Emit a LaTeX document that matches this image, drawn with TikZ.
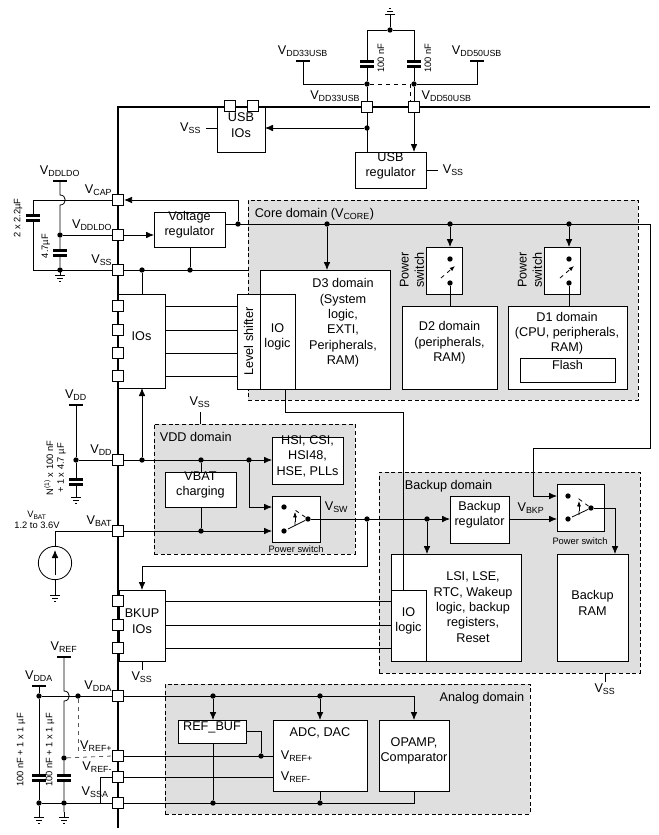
\documentclass[tikz,border=0pt]{standalone}
\usepackage{fontspec}
\setmainfont{Liberation Sans}
\usetikzlibrary{positioning, fit, calc, arrows.meta}
\newcommand{\vl}[1]{V\textsubscript{#1}}
\begin{document}
\begin{tikzpicture}[x=0.75pt, y=-0.75pt, line width=0.6pt,
  font=\fontsize{9.5}{11.5}\selectfont,
  box/.style={draw, fill=white, inner sep=0pt, outer sep=0pt, align=center},
  dombox/.style={draw, densely dashed, fill=gray!25, inner sep=0pt},
  pad/.style={draw, fill=white, minimum size=8.5pt, inner sep=0pt},
  dot/.style={circle, fill, inner sep=0pt, minimum size=4pt},
  arr/.style={-{Latex[length=6pt,width=5pt]}},
  bus/.style={line width=1.3pt},
  small/.style={font=\fontsize{7}{8}\selectfont},
  rail/.pic={\draw[line width=1.3pt] (-7,0) -- (7,0);},
  capv/.pic={\fill[white] (-7,-3) rectangle (7,3);
    \draw[line width=2pt] (-7,-2.5) -- (7,-2.5) (-7,2.5) -- (7,2.5);},
  gnd/.pic={\draw (0,0) -- (0,5) (-5,5) -- (5,5) (-3,8) -- (3,8) (-1,11) -- (1,11);},
]
\useasboundingbox (0,0) rectangle (658,835);

% domains
\node (core) [dombox, fit={(248,200) (638,400)}] {};
\node [anchor=north west] at (250,203) {Core domain (\vl{CORE})};
\node (vdddom) [dombox, fit={(154,424) (355,554)}] {};
\node [anchor=north west] at (155,427) {VDD domain};
\node (bkpdom) [dombox, fit={(379,472) (640,673)}] {};
\node [anchor=north west] at (400,475) {Backup domain};
\node (anadom) [dombox, fit={(165,684) (530,814)}] {};
\node [anchor=north east] at (529,687) {Analog domain};

% bus
\coordinate (busT) at (118,107);
\coordinate (busB) at (118,828);
\coordinate (topR) at (650,107);
\draw[bus] (busB) -- (busT) -- (topR);

% blocks
\node (usbio) [box, fit={(217,107) (265,152)}] {USB\\IOs};
\node (usbreg) [box, fit={(355,152) (426,188)}] {USB\\regulator};
\node (vreg) [box, fit={(154,212) (225,247)}] {Voltage\\regulator};
\node (ios) [box, fit={(118,294) (165,388)}] {IOs};
\node (d3) [box, fit={(260,270) (390,389)}] {};
\node [align=center] at (343,323) {D3 domain\\(System\\logic,\\EXTI,\\Peripherals,\\RAM)};
\node (iol3) [box, fit={(260,294) (295,389)}] {IO\\logic};
\node (lvl) [box, fit={(237,294) (260,389)}, label={[rotate=90]center:Level shifter}] {};
\node (psw2) [box, fit={(426,247) (462,294)}] {};
\node [rotate=90, align=center] at (412,270) {Power\\switch};
\node (d2) [box, fit={(402,306) (497,389)}] {D2 domain\\(peripherals,\\RAM)};
\node (psw1) [box, fit={(544,247) (580,294)}] {};
\node [rotate=90, align=center] at (530,270) {Power\\switch};
\node (d1) [box, fit={(508,306) (627,389)}] {};
\node [align=center, anchor=north] at (567,307) {D1 domain\\(CPU, peripherals,\\RAM)};
\node (flash) [box, fit={(520,358) (615,382)}] {Flash};
\node (hsi) [box, fit={(272,437) (343,484)}] {HSI, CSI,\\HSI48,\\HSE, PLLs};
\node (vbc) [box, fit={(165,472) (236,507)}] {VBAT\\charging};
\node (swv) [box, fit={(272,496) (320,542)}] {};
\node [small] at (296,549) {Power switch};
\node (bkreg) [box, fit={(450,496) (509,543)}] {Backup\\regulator};
\node (swb) [box, fit={(557,484) (604,531)}] {};
\node [small] at (580,541) {Power switch};
\node (lsi) [box, fit={(391,554) (521,661)}] {};
\node [align=center] at (473,607) {LSI, LSE,\\RTC, Wakeup\\logic, backup\\registers,\\Reset};
\node (iolb) [box, fit={(391,590) (426,661)}] {IO\\logic};
\node (bram) [box, fit={(557,554) (628,661)}] {Backup\\RAM};
\node (bkio) [box, fit={(119,590) (165,661)}] {BKUP\\IOs};
\node (refbuf) [box, fit={(178,720) (246,743)}] {REF\_BUF};
\node (adc) [box, fit={(273,720) (367,791)}] {};
\node [anchor=north] at (320,723) {ADC, DAC};
\node [anchor=west] at (276,756) {\vl{REF+}};
\node [anchor=west] at (276,777) {\vl{REF-}};
\node (opamp) [box, fit={(379,720) (449,791)}] {OPAMP,\\Comparator};
\node (src) [draw, circle, minimum size=25pt, inner sep=0pt] at (55,563) {};

% pads
\foreach \n/\y in {cap/200, ldo/235, vss/270, io1/306, io2/330, io3/353, io4/376,
  vdd/460, bat/531, bk1/601, bk2/625, bk3/648, dda/696, refp/756, refn/777, ssa/803}
  \node (p\n) [pad] at (118,\y) {};
\node (p33) [pad] at (367,107) {};
\node (p50) [pad] at (414,107) {};
\node (pu1) [pad] at (230,106) {};
\node (pu2) [pad] at (253,106) {};

% pad labels
\foreach \y/\t in {192/CAP, 227/DDLDO, 262/SS, 452/DD, 523/BAT, 688/DDA, 748/REF+, 769/REF-}
  \node [anchor=south east, inner sep=1pt] at (114,\y+5) {\vl{\t}};
\node [anchor=south west, inner sep=1pt] at (80,799) {\vl{SSA}};
\node [anchor=south east, inner sep=1pt] at (362,103) {\vl{DD33USB}};
\node [anchor=south west, inner sep=1pt] at (420,103) {\vl{DD50USB}};

% USB supply
\node (dtop) [dot] at (390,30) {};
\node (d33) [dot] at (367,84) {};
\node (d50) [dot] at (414,84) {};
\draw (390,19) -- (dtop);
\pic[rotate=180] at (390,19) {gnd};
\draw (d33) |- (dtop) -| (d50);
\pic at (367,64) {capv};
\pic at (414,64) {capv};
\node [small, rotate=90] at (381,58) {100 nF};
\node [small, rotate=90] at (428,58) {100 nF};
\coordinate (v33) at (303,61);
\coordinate (v50) at (477,61);
\draw (d33) -| (v33);
\draw (d50) -| (v50);
\pic at (v33) {rail};
\pic at (v50) {rail};
\node [above] at (v33) {\vl{DD33USB}};
\node [above] at (v50) {\vl{DD50USB}};
\draw[dashed] (d33) -- (410,84) -- (410,102);
\draw (d33) -- (p33);
\draw (d50) -- (p50);
\node (du) [dot] at (367,128) {};
\draw (p33) -- (usbreg.north -| p33);
\draw[arr] (du) -- (usbio.east |- du);
\draw[arr] (p50) -- (usbreg.north -| p50);
\coordinate (vsu) at (206,128);
\draw (vsu) -- (usbio.west |- vsu);
\node [left] at (vsu) {\vl{SS}};
\coordinate (vsr) at (438,170);
\draw (usbreg.east |- vsr) -- (vsr);
\node [right] at (vsr) {\vl{SS}};

% LDO and VCAP
\coordinate (rldo) at (60,181);
\pic at (rldo) {rail};
\node [above] at (rldo) {\vl{DDLDO}};
\node (dldo) [dot] at (60,235) {};
\node (dvss) [dot] at (60,270) {};
\draw (rldo) -- (60,195) .. controls (67,195) and (67,205) .. (60,205) -- (dldo) -- (dvss);
\draw (pcap.west) -- (33,200) -- (33,270) -- (pvss.west);
\pic at (33,218) {capv};
\pic at (60,253) {capv};
\node [small, rotate=90] at (18,218) {2 x 2.2µF};
\node [small, rotate=90] at (46,246) {4.7µF};
\pic at (dvss) {gnd};
\draw (dldo) -- (pldo.west);
\draw[arr] (pldo.east) -- (vreg.west |- pldo);
\node (dcr) [dot] at (238,224) {};
\draw[arr] (dcr) |- (pcap.east);
\coordinate (cr1) at (650,224);
\coordinate (cr2) at (533,448);
\coordinate (swbin1) at (557,496);
\coordinate (swbin2) at (557,519);
\draw[arr] (vreg.east |- dcr) -- (cr1) -- (cr1 |- cr2) -- (cr2) -- (cr2 |- swbin1) -- (swbin1);
\node (dc3) [dot] at (327,224) {};
\node (dc2) [dot] at (450,224) {};
\node (dc1) [dot] at (569,224) {};
\draw[arr] (dc3) -- (d3.north -| dc3);
\draw[arr] (dc2) -- (psw2.north -| dc2);
\draw[arr] (dc1) -- (psw1.north -| dc1);
\foreach \s/\x/\d in {2/450/d2, 1/569/d1} {
  \node (s\s a) [dot] at (\x,259) {};
  \node (s\s b) [dot] at (\x,283) {};
  \draw (s\s b) -- (\d.north -| s\s b);
  \draw[dashed, -{Latex[length=4pt]}] (\x-9,278) -- (\x+5,266);
}

% VSS and IOs
\node (dv1) [dot] at (142,270) {};
\node (dv2) [dot] at (190,270) {};
\draw (pvss.east) -- (core.west |- pvss);
\draw (vreg.south -| dv2) -- (dv2);
\draw (dv1) -- (ios.north -| dv1);
\foreach \i in {1,...,4}
  \draw (ios.east |- pio\i) -- (lvl.west |- pio\i);
\coordinate (lk1) at (285,412);
\coordinate (lk2) at (403,412);
\draw (iol3.south -| lk1) -- (lk1) -- (lk2) -- (iolb.north -| lk2);

% VDD domain
\coordinate (rvdd) at (76,405);
\pic at (rvdd) {rail};
\node [above] at (rvdd) {\vl{DD}};
\node (dvdd) [dot] at (76,460) {};
\draw (rvdd) -- (dvdd) -- (76,492);
\pic at (76,482) {capv};
\pic at (76,492) {gnd};
\node [small, rotate=90, align=center] at (55,468) {N\textsuperscript{(1)} x 100 nF\\+ 1 x 4.7 µF};
\draw (dvdd) -- (pvdd.west);
\draw[arr] (pvdd.east) -- (hsi.west |- pvdd);
\node (dvd1) [dot] at (142,460) {};
\node (dvd2) [dot] at (201,460) {};
\node (dvd3) [dot] at (249,460) {};
\node (dvb) [dot] at (201,531) {};
\draw[arr] (dvd1) -- (ios.south -| dvd1);
\draw (dvd2) -- (vbc.north -| dvd2);
\draw (vbc.south -| dvb) -- (dvb);
\coordinate (swin1) at (272,507);
\coordinate (swin2) at (272,531);
\draw[arr] (dvd3) |- (swin1);
\draw[arr] (pbat.east) -- (swin2);
\coordinate (vssv) at (200,412);
\draw (vssv) -- (vdddom.north -| vssv);
\node [above] at (vssv) {\vl{SS}};
\draw (pbat.west) -| (src.north);
\draw (src.south) -- (55,590);
\pic at (55,590) {gnd};
\draw[arr] ($(src.center)+(0,12)$) -- ($(src.center)+(0,-13)$);
\node [small, align=center] at (37,520) {\vl{BAT}\\1.2 to 3.6V};
\node (sv1) [dot] at (284,507) {};
\node (sv2) [dot] at (284,531) {};
\node (sv3) [dot] at (308,519) {};
\draw (sv3) -- (288,529);
\draw[dashed] (sv3) -- (295,510) -- (295,526);
\draw[-{Latex[length=4pt]}] (295,522) -- (295,512);
\node (dsw1) [dot] at (367,519) {};
\node (dsw2) [dot] at (427,519) {};
\draw[arr] (sv3) -- (bkreg.west |- sv3);
\node [above right] at (320,517) {\vl{SW}};
\coordinate (lp1) at (367,566);
\coordinate (lp2) at (142,566);
\draw[arr] (dsw1) -- (lp1) -- (lp2) -- (bkio.north -| lp2);
\draw[arr] (dsw2) -- (lsi.north -| dsw2);

% backup domain
\draw[arr] (bkreg.east |- swbin2) -- (swbin2);
\node [above] at (531,518) {\vl{BKP}};
\node (sb1) [dot] at (568,496) {};
\node (sb2) [dot] at (568,519) {};
\node (sb3) [dot] at (591,508) {};
\draw (sb3) -- (572,517);
\draw[dashed] (sb3) -- (579,499) -- (579,515);
\draw[-{Latex[length=4pt]}] (579,511) -- (579,501);
\coordinate (sbo) at (615,508);
\draw[arr] (sb3) -- (sbo) -- (bram.north -| sbo);
\foreach \i in {1,2,3}
  \draw (bkio.east |- pbk\i) -- (iolb.west |- pbk\i);
\coordinate (vsb) at (142,670);
\draw (bkio.south -| vsb) -- (vsb);
\node [below, inner sep=1pt] at (vsb) {\vl{SS}};
\coordinate (vsk) at (605,682);
\draw (bkpdom.south -| vsk) -- (vsk);
\node [below, inner sep=1pt] at (vsk) {\vl{SS}};

% analog
\coordinate (rvda) at (39,686);
\coordinate (rvrf) at (64,657);
\pic at (rvda) {rail};
\pic at (rvrf) {rail};
\node [above] at (rvda) {\vl{DDA}};
\node [above] at (rvrf) {\vl{REF}};
\node (da0) [dot] at (39,696) {};
\node (ds0) [dot] at (39,803) {};
\node (dr0) [dot] at (64,758) {};
\node (ds1) [dot] at (64,803) {};
\node (dax) [dot] at (78,696) {};
\draw (rvda) -- (da0) -- (ds0) -- (39,812);
\draw (rvrf) -- (64,691) .. controls (71,691) and (71,701) .. (64,701) -- (dr0) -- (ds1) -- (64,812);
\pic at (39,778) {capv};
\pic at (64,778) {capv};
\pic at (39,812) {gnd};
\pic at (64,812) {gnd};
\node [small, rotate=90] at (21,750) {100 nF + 1 x 1 µF};
\node [small, rotate=90] at (50,750) {100 nF + 1 x 1 µF};
\draw (da0) -- (pdda.west);
\draw[dashed, gray!70!black] (dax) -- (78,750) -- (86,750);
\draw[dashed, gray!70!black] (dr0) -- (prefp.west);
\draw (prefn.west) -- (100,777) -- (100,803);
\draw (ds0) -- (pssa.west);
\node (da1) [dot] at (213,696) {};
\node (da2) [dot] at (320,696) {};
\node (db1) [dot] at (213,803) {};
\node (db2) [dot] at (320,803) {};
\draw[arr] (pdda.east) -| (opamp.north);
\draw (pssa.east) -| (opamp.south);
\draw[arr] (da1) -- (refbuf.north -| da1);
\draw[arr] (da2) -- (adc.north -| da2);
\draw (refbuf.south -| db1) -- (db1);
\draw (adc.south -| db2) -- (db2);
\node (dr) [dot] at (261,756) {};
\draw (refbuf.east) -| (dr);
\draw (prefp.east) -- (adc.west |- prefp);
\draw (prefn.east) -- (adc.west |- prefn);
\end{tikzpicture}
\end{document}
